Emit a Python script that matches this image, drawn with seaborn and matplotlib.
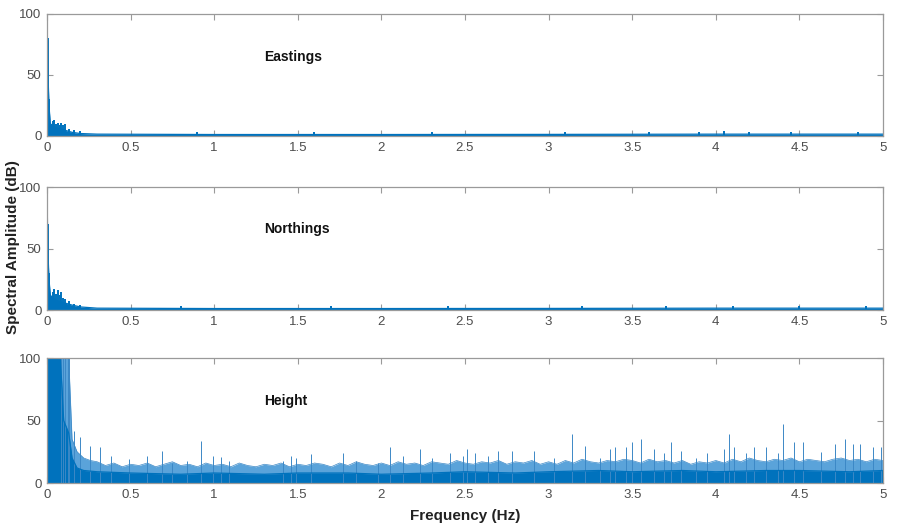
import matplotlib
matplotlib.use("Agg")
import matplotlib.pyplot as plt
import seaborn as sns
import numpy as np
import pandas as pd

# ---------------- data ----------------
panel_names = ["Eastings", "Northings", "Height"]
x_ticks = [0, 0.5, 1, 1.5, 2, 2.5, 3, 3.5, 4, 4.5, 5]
x_tick_labels = ["0", "0.5", "1", "1.5", "2", "2.5", "3", "3.5", "4", "4.5", "5"]
y_ticks = [0, 50, 100]

# Eastings: dense base envelope and spikes
east_env_f = [0, 0.005, 0.012, 0.02, 0.05, 0.1, 0.15, 0.2, 0.3, 1.0, 2.0, 3.0, 4.0, 5.0]
east_env_v = [100, 55, 25, 10, 7, 5, 3, 2, 1.5, 1.2, 1.2, 1.3, 1.5, 1.5]
east_spk_f = [0.003, 0.006, 0.009, 0.012, 0.035, 0.045, 0.055, 0.065, 0.075, 0.085, 0.095, 0.11, 0.13, 0.16, 0.2,
              0.9, 1.6, 2.3, 3.1, 3.6, 3.9, 4.05, 4.2, 4.45, 4.85]
east_spk_v = [100, 80, 50, 30, 12, 13, 10, 11, 9, 11, 9, 10, 6, 5, 4,
              3, 3, 3, 3, 3.5, 3.5, 4, 3.5, 3.5, 3.5]

# Northings
north_env_f = [0, 0.005, 0.012, 0.02, 0.05, 0.1, 0.15, 0.2, 0.3, 1.0, 2.0, 3.0, 4.0, 5.0]
north_env_v = [100, 50, 25, 12, 8, 6, 4, 2.5, 1.5, 1.2, 1.2, 1.3, 1.5, 1.5]
north_spk_f = [0.003, 0.006, 0.009, 0.012, 0.035, 0.045, 0.055, 0.065, 0.075, 0.085, 0.095, 0.11, 0.13, 0.16, 0.2,
               0.8, 1.7, 2.4, 3.2, 3.7, 4.1, 4.5, 4.9]
north_spk_v = [100, 70, 45, 30, 15, 17, 13, 16, 12, 15, 10, 9, 7, 5, 4,
               3, 3, 3, 3, 3.5, 3.5, 3.5, 3.5]

# Height: dark core, lighter noisy fringe and spikes
height_core_f = [0, 0.08, 0.10, 0.13, 0.15, 0.18, 0.22, 0.3, 0.5, 0.8, 1.0, 1.3, 1.5, 1.8, 2.0, 2.3, 2.5,
                 2.8, 3.0, 3.3, 3.5, 3.8, 4.0, 4.3, 4.5, 4.8, 5.0]
height_core_v = [100, 100, 50, 40, 20, 12, 10, 9, 8, 7, 8, 7, 8, 8, 7, 8, 9,
                 8, 9, 10, 9, 10, 9, 10, 10, 9, 10]
height_fringe_lo_f = [0, 0.08, 0.10, 0.13, 0.15, 0.18, 0.22, 0.26]
height_fringe_lo_v = [100, 100, 100, 100, 35, 25, 20, 18]
height_fringe_f = list(np.round(np.arange(0.30, 5.001, 0.05), 2))
height_fringe_v = [17, 14, 16, 13, 15, 14, 16, 13, 15, 17, 14, 15, 13, 16,
                   14, 15, 13, 16, 14, 13, 15, 14, 16, 13, 15, 14, 16, 15, 13, 16, 14, 17, 15, 14,
                   16, 14, 17, 15, 16, 14, 17, 16, 15, 18, 16, 15, 17, 16, 18, 15, 17, 16, 18, 15,
                   17, 15, 18, 16, 19, 17, 16, 18, 17, 19, 18, 16, 19, 17, 18, 16, 18, 15, 17, 16,
                   18, 16, 19, 17, 20, 18, 17, 19, 18, 20, 17, 19, 18, 17, 19, 20, 18, 19, 17, 19, 18]
height_spk_f = [0.085, 0.095, 0.11, 0.125, 0.13, 0.16, 0.2, 0.26, 0.32, 0.38, 0.49, 0.6, 0.69, 0.75, 0.84,
                0.92, 0.99, 1.04, 1.09, 1.41, 1.46, 1.49, 1.58, 1.77, 1.85, 1.98, 2.05, 2.13, 2.23, 2.30,
                2.41, 2.49, 2.51, 2.56, 2.64, 2.70, 2.78, 2.91, 3.03, 3.14, 3.22, 3.31, 3.37, 3.40, 3.46,
                3.50, 3.55, 3.63, 3.69, 3.73, 3.79, 3.88, 3.95, 4.05, 4.08, 4.11, 4.18, 4.23, 4.30, 4.37,
                4.40, 4.47, 4.52, 4.63, 4.71, 4.77, 4.82, 4.86, 4.94, 4.99]
height_spk_v = [100, 100, 100, 100, 100, 42, 37, 30, 29, 22, 19, 22, 26, 16, 18,
                34, 22, 21, 18, 18, 22, 20, 23, 24, 18, 16, 29, 22, 27, 20,
                24, 22, 27, 24, 22, 26, 26, 26, 20, 39, 30, 20, 27, 29, 29,
                33, 35, 27, 24, 33, 26, 20, 24, 27, 39, 29, 24, 29, 29, 24,
                47, 33, 33, 25, 31, 35, 31, 31, 29, 29]

label_pos = [(1.30, 65), (1.30, 66), (1.30, 66)]

# ---------------- style ----------------
sns.set_style("white")
plt.rcParams["font.family"] = ["Liberation Sans", "DejaVu Sans"]

blue = "#0072BD"
light_blue = "#5AA3DA"
spike_col = "#3C88C6"
edge = "#9a9a9a"
tick_col = "#4d4d4d"

fig = plt.figure(figsize=(8.98, 5.25), dpi=100)
positions = [
    [0.0523, 0.741, 0.931, 0.2325],
    [0.0523, 0.4095, 0.931, 0.2343],
    [0.0523, 0.080, 0.931, 0.238],
]
axes = [fig.add_axes(p) for p in positions]

series = [
    (east_env_f, east_env_v, None, None, east_spk_f, east_spk_v),
    (north_env_f, north_env_v, None, None, north_spk_f, north_spk_v),
    (height_core_f, height_core_v,
     height_fringe_lo_f + height_fringe_f, height_fringe_lo_v + height_fringe_v,
     height_spk_f, height_spk_v),
]

for ax, name, (ef, ev, ff, fv, sf, sv), (lx, ly) in zip(axes, panel_names, series, label_pos):
    if ff is not None:
        ax.fill_between(ff, 0, fv, color=light_blue, lw=0)
        ax.plot(ff, fv, color=spike_col, lw=0.5)
        ax.vlines(sf, 0, sv, color=spike_col, lw=0.7)
    else:
        ax.vlines(sf, 0, sv, color=blue, lw=1.4)
    ax.fill_between(ef, 0, ev, color=blue, lw=0)
    df = pd.DataFrame({"f": ef, "v": ev})
    sns.lineplot(data=df, x="f", y="v", ax=ax, color=blue, lw=0.9)
    ax.set_xlim(0, 5)
    ax.set_ylim(0, 100)
    ax.set_xticks(x_ticks)
    ax.set_xticklabels(x_tick_labels)
    ax.set_yticks(y_ticks)
    ax.set_xlabel("")
    ax.set_ylabel("")
    ax.tick_params(direction="in", length=4, width=0.8, colors=edge, labelcolor=tick_col,
                   labelsize=9.5, top=True, right=True, bottom=True, left=True, pad=4)
    for s in ax.spines.values():
        s.set_color(edge)
        s.set_linewidth(0.9)
        s.set_zorder(5)
    ax.text(lx, ly, name, fontsize=10, fontweight="bold", color="#111111", ha="left", va="center")

fig.text(0.014, 0.53, "Spectral Amplitude (dB)", rotation=90, ha="center", va="center",
         fontsize=11, fontweight="bold", color="#222222")
fig.text(0.518, 0.018, "Frequency (Hz)", ha="center", va="center",
         fontsize=11, fontweight="bold", color="#222222")

fig.savefig("out.png", dpi=100)
